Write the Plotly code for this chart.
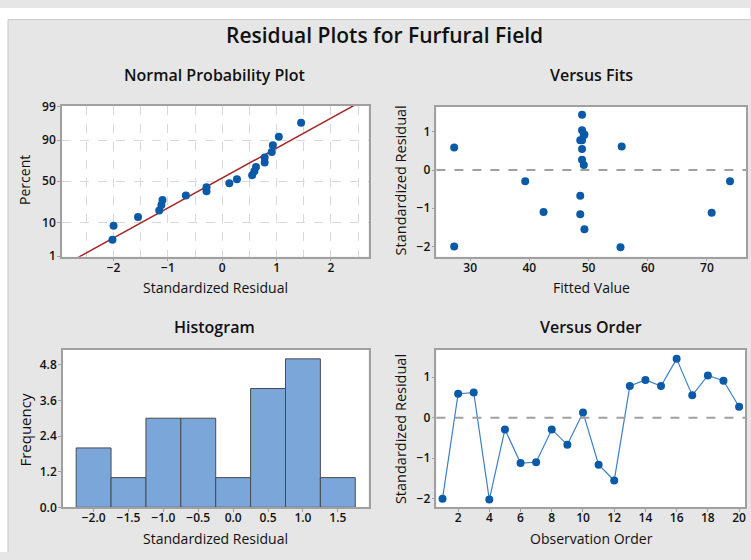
import plotly.graph_objects as go
from statistics import NormalDist, mean, stdev

W, H = 751, 560

# ---------------- data ----------------
observation = list(range(1, 21))
std_resid = [-2.00, 0.59, 0.62, -2.02, -0.29, -1.12, -1.10, -0.29, -0.67, 0.13,
             -1.16, -1.55, 0.78, 0.93, 0.78, 1.45, 0.55, 1.04, 0.91, 0.27]
fitted = [27.3, 27.3, 55.6, 55.4, 73.9, 70.8, 42.4, 39.3, 48.6, 49.2,
          48.6, 49.3, 48.6, 49.3, 48.9, 48.9, 48.9, 48.9, 49.2, 48.9]
hist_mid = [-2.0, -1.5, -1.0, -0.5, 0.0, 0.5, 1.0, 1.5]
hist_count = [2, 1, 3, 3, 1, 4, 5, 1]
pct_ticks = [1, 10, 50, 90, 99]
fit_ticks = [30, 40, 50, 60, 70]
freq_ticks = [0.0, 1.2, 2.4, 3.6, 4.8]
order_ticks = [2, 4, 6, 8, 10, 12, 14, 16, 18, 20]
resid_ticks = [-2, -1, 0, 1]

nd = NormalDist()
n = len(std_resid)
sorted_r = sorted(std_resid)
z_pos = [nd.inv_cdf((i - 0.3) / (n + 0.4)) for i in range(1, n + 1)]
mu, sd = mean(std_resid), stdev(std_resid)
line_z = [-2.6, 2.6]
line_x = [mu + sd * z for z in line_z]

FONT = "Open Sans"
MARK = "#0b5aa8"


def px_dom_x(a, b):
    return [a / W, b / W]


def px_dom_y(top, bottom):
    return [1 - bottom / H, 1 - top / H]


fig = go.Figure()

# Normal probability plot
fig.add_trace(go.Scatter(x=line_x, y=line_z, mode="lines",
                         line=dict(color="#a3282a", width=1.5),
                         xaxis="x", yaxis="y", hoverinfo="skip"))
fig.add_trace(go.Scatter(x=sorted_r, y=z_pos, mode="markers",
                         marker=dict(color=MARK, size=8),
                         xaxis="x", yaxis="y"))
# Versus fits
fig.add_trace(go.Scatter(x=fitted, y=std_resid, mode="markers",
                         marker=dict(color=MARK, size=8),
                         xaxis="x2", yaxis="y2"))
# Histogram
fig.add_trace(go.Bar(x=hist_mid, y=hist_count, width=0.5,
                     marker=dict(color="#7ba6da", line=dict(color="#4a4a4a", width=1)),
                     xaxis="x3", yaxis="y3"))
# Versus order
fig.add_trace(go.Scatter(x=observation, y=std_resid, mode="lines+markers",
                         line=dict(color="#3d7fc8", width=1.2),
                         marker=dict(color=MARK, size=8),
                         xaxis="x4", yaxis="y4"))

axis_common = dict(showline=True, mirror=True, linecolor="#a0a0a0", linewidth=1.5,
                   ticks="outside", ticklen=3, tickcolor="#a0a0a0", tickwidth=1,
                   tickfont=dict(family=FONT, size=12, color="#111111", weight=600),
                   zeroline=False, showgrid=False, fixedrange=True)
xa_common = dict(axis_common, ticklabelstandoff=-4)
ya_common = dict(axis_common, ticklabelstandoff=-1)

y_norm_ticks = [nd.inv_cdf(p / 100) for p in pct_ticks]

fig.update_layout(
    width=W, height=H, margin=dict(l=0, r=0, t=0, b=0),
    paper_bgcolor="#e6e6e6", plot_bgcolor="white", showlegend=False,
    xaxis=dict(xa_common, domain=px_dom_x(62, 369), anchor="y",
               range=[-2.95, 2.69], tickvals=[-2, -1, 0, 1, 2],
               showgrid=True, gridcolor="#d9d9d9", griddash="dash", gridwidth=1,
               minor=dict(tickvals=[-2.5, -1.5, -0.5, 0.5, 1.5, 2.5], showgrid=True,
                          gridcolor="#d9d9d9", griddash="dash", ticks="")),
    yaxis=dict(ya_common, domain=px_dom_y(101, 256), anchor="x",
               range=[y_norm_ticks[0] - 0.02, y_norm_ticks[-1] + 0.01],
               tickvals=y_norm_ticks, ticktext=[str(p) for p in pct_ticks],
               showgrid=True, gridcolor="#d9d9d9", griddash="dash", gridwidth=1),
    xaxis2=dict(xa_common, domain=px_dom_x(437, 747), anchor="y2",
                range=[24.3, 76.6], tickvals=fit_ticks),
    yaxis2=dict(ya_common, domain=px_dom_y(102, 256), anchor="x2",
                range=[-2.27, 1.65], tickvals=resid_ticks),
    xaxis3=dict(xa_common, domain=px_dom_x(63, 369), anchor="y3",
                range=[-2.44, 1.94], tickvals=hist_mid, tickformat=".1f"),
    yaxis3=dict(ya_common, domain=px_dom_y(352, 514), anchor="x3",
                range=[0, 5.3], tickvals=freq_ticks, tickformat=".1f"),
    xaxis4=dict(xa_common, domain=px_dom_x(437, 746), anchor="y4",
                range=[0.61, 20.38], tickvals=order_ticks),
    yaxis4=dict(ya_common, domain=px_dom_y(352, 514), anchor="x4",
                range=[-2.21, 1.67], tickvals=resid_ticks),
)

# outer white strips and frame line
fig.add_shape(type="rect", xref="paper", yref="paper", x0=0, x1=1, y0=1 - 12 / H, y1=1,
              fillcolor="white", line=dict(width=0), layer="below")
fig.add_shape(type="rect", xref="paper", yref="paper", x0=0, x1=8 / W, y0=0, y1=1,
              fillcolor="white", line=dict(width=0), layer="below")
fig.add_shape(type="line", xref="paper", yref="paper", x0=8 / W, x1=1,
              y0=1 - 12 / H, y1=1 - 12 / H, line=dict(color="#c8c8c8", width=1))
fig.add_shape(type="line", xref="paper", yref="paper", x0=8 / W, x1=8 / W,
              y0=0, y1=1 - 12 / H, line=dict(color="#c8c8c8", width=1))

# zero reference lines
for xa, ya in [("x2", "y2"), ("x4", "y4")]:
    fig.add_shape(type="line", xref=f"{xa} domain", yref=ya, x0=0, x1=1, y0=0, y1=0,
                  line=dict(color="#a0a0a0", width=2, dash="dash"))


def ann(text, x, y, size, weight="normal", angle=0):
    fig.add_annotation(text=text, x=x / W, y=1 - y / H, xref="paper", yref="paper",
                       xanchor="center", yanchor="middle", showarrow=False,
                       textangle=angle,
                       font=dict(family=FONT, size=size, color="#111111", weight=weight))


ann("Residual Plots for Furfural Field", 385, 28, 21, 600)
ann("Normal Probability Plot", 215, 69, 16, 600)
ann("Versus Fits", 592, 69, 16, 600)
ann("Histogram", 215, 328, 16, 600)
ann("Versus Order", 592, 328, 16, 600)
ann("Standardized Residual", 216, 288, 14)
ann("Fitted Value", 592, 288, 14)
ann("Standardized Residual", 216, 546, 14)
ann("Observation Order", 592, 546, 14)
ann("Percent", 25, 177, 14, angle=-90)
ann("Standardized Residual", 401, 177, 14.5, angle=-90)
ann("Frequency", 25, 434, 15, angle=-90)
ann("Standardized Residual", 401, 433, 14.5, angle=-90)

fig.write_html("out.html")
